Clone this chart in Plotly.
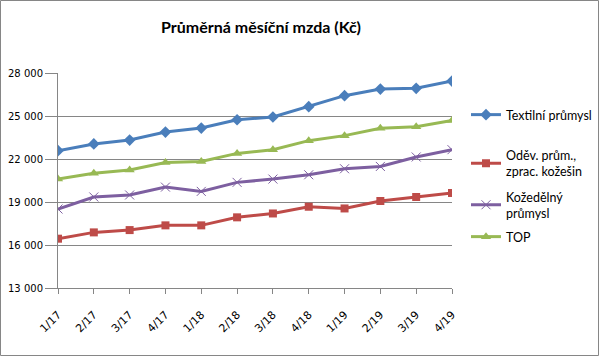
import plotly.graph_objects as go

categories = ["1/17", "2/17", "3/17", "4/17", "1/18", "2/18", "3/18", "4/18", "1/19", "2/19", "3/19", "4/19"]
textil = [22580, 23050, 23320, 23880, 24160, 24740, 24930, 25650, 26420, 26880, 26930, 27440]
odev = [16440, 16880, 17040, 17370, 17370, 17930, 18200, 18670, 18550, 19070, 19350, 19630]
kozed = [18510, 19350, 19490, 20040, 19740, 20370, 20600, 20900, 21320, 21480, 22140, 22650]
top = [20600, 21000, 21230, 21760, 21830, 22390, 22650, 23280, 23630, 24140, 24250, 24690]
series_names = ["Textilní průmysl", "Oděv. prům.,<br>zprac. kožešin", "Kožedělný<br>průmysl", "TOP"]
y_tickvals = [13000, 16000, 19000, 22000, 25000, 28000]
y_ticktext = ["13 000", "16 000", "19 000", "22 000", "25 000", "28 000"]
title_text = "Průměrná měsíční mzda (Kč)"

W, H = 600, 357
L, R, T, B = 58, 148, 73, 69
pw, ph = W - L - R, H - T - B

styles = [
    dict(color="#4A7EBB", symbol="diamond", size=9),
    dict(color="#BE4B48", symbol="square", size=8),
    dict(color="#7D5FA0", symbol="x-thin-open", size=9),
    dict(color="#98B954", symbol="triangle-up", size=9),
]
legend_centers = [115, 163.5, 205, 237]
data = [textil, odev, kozed, top]
legend_ids = ["legend", "legend2", "legend3", "legend4"]

fig = go.Figure()
for i, (name, vals, st) in enumerate(zip(series_names, data, styles)):
    marker = dict(symbol=st["symbol"], size=st["size"], color=st["color"])
    if "open" in st["symbol"]:
        marker["line"] = dict(color=st["color"], width=1)
    fig.add_trace(go.Scatter(
        x=list(range(len(categories))), y=vals, name=name, mode="lines+markers",
        line=dict(color=st["color"], width=3), marker=marker,
        legend=legend_ids[i],
    ))

legend_common = dict(xanchor="left", yanchor="middle", font=dict(family="Lato", size=12.5),
                     itemwidth=30, bgcolor="rgba(0,0,0,0)", borderwidth=0)
legend_layout = {}
for lid, yc in zip(legend_ids, legend_centers):
    legend_layout[lid] = dict(x=(466 - L) / pw, y=(H - B - yc) / ph, **legend_common)

fig.update_layout(
    width=W, height=H,
    margin=dict(l=L, r=R, t=T, b=B, autoexpand=False),
    paper_bgcolor="white", plot_bgcolor="white",
    font=dict(family="Lato", size=12, color="#000000"),
    title=dict(text=f"<b>{title_text}</b>", x=261 / W, xanchor="center", y=1 - 27 / H, yanchor="middle",
               font=dict(family="Lato", size=16, color="#000000")),
    xaxis=dict(
        range=[0, len(categories) - 1], tickvals=list(range(len(categories))), ticktext=categories,
        tickangle=-45, showgrid=False, showline=True, linecolor="#868686", linewidth=1,
        ticks="outside", ticklen=5, tickcolor="#868686", zeroline=False, automargin=False,
        ticklabelstandoff=10,
        tickfont=dict(family="DejaVu Sans", size=11),
    ),
    yaxis=dict(
        range=[13000, 28000], tickvals=y_tickvals, ticktext=y_ticktext,
        showgrid=True, gridcolor="#868686", gridwidth=1, showline=True, linecolor="#868686",
        ticks="outside", ticklen=12, tickcolor="#868686", zeroline=False, automargin=False,
        tickfont=dict(family="DejaVu Sans", size=10),
    ),
    showlegend=True,
    **legend_layout,
)
fig.add_shape(type="rect", xref="paper", yref="paper",
              x0=-(L - 0.5) / pw, x1=1 + (R - 1.5) / pw, y0=-(B - 1.5) / ph, y1=1 + (T - 0.5) / ph,
              line=dict(color="#868686", width=1), layer="below")

fig.write_html("out.html", config={"displayModeBar": False},
               post_script="document.body.style.margin='0';document.body.style.padding='0';")
